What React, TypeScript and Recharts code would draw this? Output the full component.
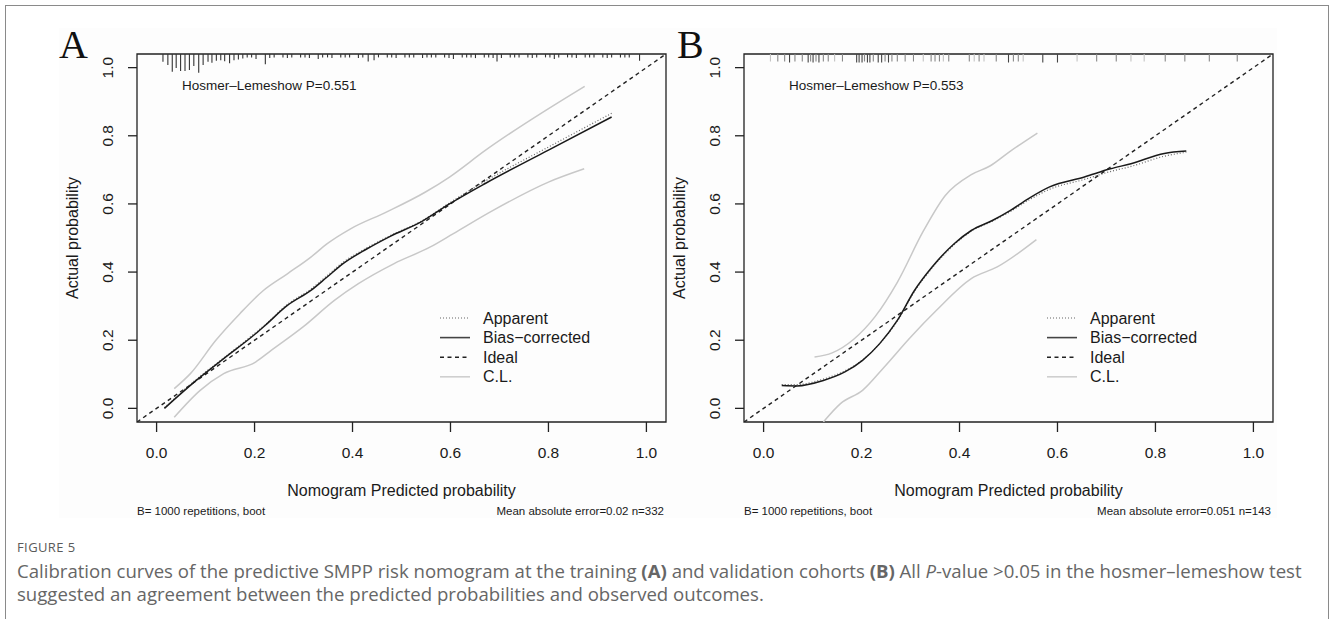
import React from "react";
import { LineChart, Line, XAxis, YAxis, ReferenceArea, ReferenceLine } from "recharts";

const FONT = '"Liberation Sans", Arial, Helvetica, sans-serif';
const SERIF = '"Liberation Serif", "Times New Roman", serif';
const CAPTION_FONT = '"Open Sans", "Noto Sans", sans-serif';

const TICKS = [0, 0.2, 0.4, 0.6, 0.8, 1.0];
const DOMAIN: [number, number] = [-0.04, 1.04];
const ideal = [[-0.04, -0.04], [1.04, 1.04]];

const legendLabels = ["Apparent", "Bias\u2212corrected", "Ideal", "C.L."];

/* ---------- A: training cohort ---------- */
const apparentA = [
  [0.016, 0.002], [0.081, 0.085], [0.137, 0.148], [0.202, 0.222], [0.222, 0.246],
  [0.267, 0.305], [0.315, 0.35], [0.347, 0.388], [0.38, 0.428], [0.428, 0.47],
  [0.477, 0.507], [0.541, 0.55], [0.598, 0.603], [0.671, 0.667], [0.8, 0.767], [0.929, 0.866],
];
const biasA = [
  [0.016, 0.0], [0.081, 0.082], [0.137, 0.146], [0.202, 0.219], [0.222, 0.244],
  [0.267, 0.302], [0.315, 0.346], [0.347, 0.384], [0.38, 0.424], [0.428, 0.467],
  [0.477, 0.505], [0.541, 0.548], [0.598, 0.6], [0.671, 0.66], [0.8, 0.758], [0.929, 0.855],
];
const clUpperA = [
  [0.036, 0.058], [0.069, 0.102], [0.121, 0.2], [0.17, 0.278], [0.218, 0.346],
  [0.267, 0.395], [0.315, 0.444], [0.347, 0.482], [0.396, 0.527], [0.469, 0.576],
  [0.549, 0.635], [0.598, 0.679], [0.671, 0.757], [0.874, 0.945],
];
const clLowerA = [
  [0.036, -0.026], [0.089, 0.053], [0.137, 0.102], [0.202, 0.136], [0.234, 0.17],
  [0.299, 0.239], [0.363, 0.317], [0.412, 0.366], [0.485, 0.425], [0.558, 0.473],
  [0.606, 0.513], [0.687, 0.581], [0.8, 0.664], [0.873, 0.703],
];
// rug of predicted values: [value, bar length]
const rugA = [
  [0.013, 0.023], [0.023, 0.032], [0.032, 0.052], [0.04, 0.041], [0.049, 0.05], [0.058, 0.05],
  [0.067, 0.047], [0.076, 0.035], [0.086, 0.055], [0.095, 0.032], [0.105, 0.023], [0.113, 0.026],
  [0.122, 0.02], [0.131, 0.018], [0.139, 0.021], [0.149, 0.027], [0.158, 0.018], [0.167, 0.016],
  [0.176, 0.013], [0.185, 0.01], [0.194, 0.01], [0.203, 0.015], [0.222, 0.03], [0.231, 0.012],
  [0.24, 0.01], [0.258, 0.01], [0.267, 0.012], [0.276, 0.01], [0.294, 0.01], [0.303, 0.01],
  [0.312, 0.012], [0.33, 0.015], [0.339, 0.01], [0.349, 0.01], [0.358, 0.012], [0.376, 0.01],
  [0.385, 0.01], [0.394, 0.01], [0.412, 0.012], [0.421, 0.01], [0.432, 0.022], [0.444, 0.018],
  [0.453, 0.01], [0.471, 0.01], [0.48, 0.01], [0.489, 0.012], [0.507, 0.01], [0.516, 0.01],
  [0.525, 0.01], [0.543, 0.012], [0.552, 0.01], [0.561, 0.01], [0.57, 0.01], [0.588, 0.01],
  [0.597, 0.012], [0.606, 0.015], [0.624, 0.01], [0.633, 0.01], [0.642, 0.01], [0.651, 0.012],
  [0.669, 0.01], [0.678, 0.01], [0.687, 0.012], [0.695, 0.022], [0.704, 0.012], [0.722, 0.01],
  [0.731, 0.01], [0.74, 0.01], [0.758, 0.01], [0.767, 0.012], [0.776, 0.01], [0.794, 0.01],
  [0.803, 0.01], [0.812, 0.015], [0.821, 0.01], [0.839, 0.01], [0.848, 0.01], [0.857, 0.012],
  [0.875, 0.01], [0.884, 0.01], [0.893, 0.01], [0.911, 0.01], [0.92, 0.012], [0.929, 0.01],
  [0.947, 0.01], [0.956, 0.01], [0.965, 0.01], [0.986, 0.02],
];

/* ---------- B: validation cohort ---------- */
const apparentB = [
  [0.037, 0.07], [0.068, 0.07], [0.122, 0.086], [0.166, 0.11], [0.202, 0.142],
  [0.237, 0.19], [0.273, 0.256], [0.308, 0.343], [0.344, 0.412], [0.389, 0.48],
  [0.424, 0.52], [0.468, 0.55], [0.504, 0.578], [0.54, 0.61], [0.584, 0.643],
  [0.655, 0.672], [0.708, 0.695], [0.75, 0.71], [0.818, 0.74], [0.863, 0.752],
];
const biasB = [
  [0.037, 0.067], [0.068, 0.066], [0.122, 0.082], [0.166, 0.107], [0.202, 0.141],
  [0.237, 0.19], [0.273, 0.258], [0.308, 0.346], [0.344, 0.415], [0.389, 0.483],
  [0.424, 0.522], [0.468, 0.552], [0.504, 0.581], [0.54, 0.615], [0.584, 0.65],
  [0.655, 0.679], [0.708, 0.703], [0.75, 0.718], [0.818, 0.748], [0.863, 0.755],
];
const clUpperB = [
  [0.104, 0.151], [0.14, 0.163], [0.184, 0.203], [0.228, 0.27], [0.273, 0.37],
  [0.326, 0.52], [0.371, 0.625], [0.424, 0.686], [0.463, 0.712], [0.504, 0.755], [0.559, 0.808],
];
const clLowerB = [
  [0.122, -0.04], [0.157, 0.014], [0.202, 0.053], [0.246, 0.121], [0.3, 0.209],
  [0.353, 0.288], [0.424, 0.381], [0.477, 0.415], [0.557, 0.495],
];
// rug: [value, frequency class 1 = many .. 3 = few]
const rugB = [
  [0.014, 3], [0.029, 2], [0.043, 2], [0.053, 1], [0.064, 2], [0.079, 2], [0.091, 1], [0.096, 2],
  [0.101, 1], [0.107, 2], [0.113, 1], [0.122, 2], [0.132, 2], [0.145, 3], [0.161, 2], [0.19, 1],
  [0.195, 1], [0.201, 1], [0.206, 2], [0.212, 1], [0.217, 1], [0.224, 2], [0.234, 1], [0.241, 1],
  [0.248, 2], [0.255, 1], [0.262, 2], [0.273, 2], [0.289, 2], [0.306, 2], [0.326, 3], [0.342, 2],
  [0.35, 2], [0.359, 2], [0.367, 3], [0.378, 2], [0.42, 2], [0.43, 3], [0.44, 2], [0.45, 3],
  [0.475, 2], [0.5, 1], [0.51, 2], [0.52, 2], [0.53, 3], [0.57, 1], [0.6, 1], [0.64, 3],
  [0.68, 2], [0.72, 2], [0.75, 3], [0.777, 3], [0.82, 2], [0.86, 2], [0.91, 2], [0.967, 2],
];

const toPts = (arr: number[][]) => arr.map(([x, y]) => ({ x, y }));
const rugShade = ["#444", "#444", "#888", "#c4c4c4"];

const M = { top: 54, right: 34, bottom: 8, left: 97 };

const XTick = (props: any) => {
  const { x, y, payload } = props;
  return (
    <text x={x} y={y + 24} textAnchor="middle" fontFamily={FONT} fontSize={15.5} fill="#1a1a1a">
      {payload.value.toFixed(1)}
    </text>
  );
};

const YTick = (props: any) => {
  const { x, y, payload } = props;
  const bx = x - 12.5;
  return (
    <text x={bx} y={y} transform={`rotate(-90 ${bx} ${y})`} textAnchor="middle" fontFamily={FONT} fontSize={15.5} fill="#1a1a1a">
      {payload.value.toFixed(1)}
    </text>
  );
};

const legendStyles = [
  { stroke: "#666", dash: "1 2", width: 1.2 },
  { stroke: "#444", dash: undefined, width: 1.6 },
  { stroke: "#222", dash: "4 3.5", width: 1.4 },
  { stroke: "#cfcfcf", dash: undefined, width: 1.6 },
];

interface PanelProps {
  left: number;
  letter: string;
  apparent: number[][];
  bias: number[][];
  clUpper: number[][];
  clLower: number[][];
  rug: number[][];
  shaded: boolean;
  hosmer: string;
  mae: string;
}

function CalibrationPanel(p: PanelProps) {
  return (
    <div style={{ position: "absolute", left: p.left, top: 0, width: 700, height: 530 }}>
      <LineChart width={700} height={470} margin={M}>
        <XAxis
          type="number"
          dataKey="x"
          domain={DOMAIN}
          ticks={TICKS}
          interval={0}
          allowDataOverflow
          axisLine={false}
          tickSize={10}
          tickMargin={2}
          height={40}
          tickLine={{ stroke: "#222", strokeWidth: 1.3 }}
          tick={XTick}
        />
        <YAxis
          type="number"
          dataKey="y"
          domain={DOMAIN}
          ticks={TICKS}
          interval={0}
          allowDataOverflow
          axisLine={false}
          tickSize={9}
          tickMargin={2}
          width={40}
          tickLine={{ stroke: "#222", strokeWidth: 1.3 }}
          tick={YTick}
        />
        <ReferenceArea x1={-0.04} x2={1.04} y1={-0.04} y2={1.04} fill="none" stroke="#222" strokeWidth={1.3} ifOverflow="visible" />
        {p.rug.map(([x, v], i) => (
          <ReferenceLine
            key={`rug-${i}`}
            ifOverflow="visible"
            segment={[{ x, y: 1.04 }, { x, y: 1.04 - (p.shaded ? (v === 1 ? 0.025 : 0.022) : v) }]}
            stroke={p.shaded ? rugShade[v] : "#333"}
            strokeWidth={1.1}
          />
        ))}
        <Line data={toPts(p.clUpper)} dataKey="y" type="monotone" stroke="#c8c8c8" strokeWidth={1.5} dot={false} isAnimationActive={false} />
        <Line data={toPts(p.clLower)} dataKey="y" type="monotone" stroke="#c8c8c8" strokeWidth={1.5} dot={false} isAnimationActive={false} />
        <Line data={toPts(ideal)} dataKey="y" type="linear" stroke="#222" strokeWidth={1.4} strokeDasharray="4 3.5" dot={false} isAnimationActive={false} />
        <Line data={toPts(p.apparent)} dataKey="y" type="monotone" stroke="#666" strokeWidth={1.2} strokeDasharray="1 2" dot={false} isAnimationActive={false} />
        <Line data={toPts(p.bias)} dataKey="y" type="monotone" stroke="#1a1a1a" strokeWidth={1.5} dot={false} isAnimationActive={false} />
      </LineChart>
      <svg width={700} height={530} style={{ position: "absolute", left: 0, top: 0, pointerEvents: "none" }}>
        <text x={p.letter === "A" ? 59 : 70} y={58} fontFamily={SERIF} fontSize={40} fill="#111">{p.letter}</text>
        <text x={182} y={90} fontFamily={FONT} fontSize={13.5} fill="#1a1a1a">{p.hosmer}</text>
        <text x={78} y={238} transform="rotate(-90 78 238)" textAnchor="middle" fontFamily={FONT} fontSize={16} fill="#1a1a1a">
          Actual probability
        </text>
        <text x={401.5} y={496} textAnchor="middle" fontFamily={FONT} fontSize={16} fill="#1a1a1a">
          Nomogram Predicted probability
        </text>
        <text x={137} y={515} fontFamily={FONT} fontSize={11.5} fill="#1a1a1a">B= 1000 repetitions, boot</text>
        <text x={664} y={515} textAnchor="end" fontFamily={FONT} fontSize={11.5} fill="#1a1a1a">{p.mae}</text>
        {legendLabels.map((label, i) => {
          const cy = 318 + i * 19.6;
          const s = legendStyles[i];
          return (
            <g key={label}>
              <line x1={440} x2={470} y1={cy} y2={cy} stroke={s.stroke} strokeWidth={s.width} strokeDasharray={s.dash} />
              <text x={483} y={cy + 5.5} fontFamily={FONT} fontSize={16} fill="#1a1a1a">{label}</text>
            </g>
          );
        })}
      </svg>
    </div>
  );
}

export default function App() {
  return (
    <div style={{ position: "absolute", left: 0, top: 0, width: 1330, height: 619, background: "#fff", overflow: "hidden" }}>
      <div style={{ position: "absolute", left: 5, top: 5, width: 1322, height: 700, border: "1px solid #8a8a8a" }} />
      <div style={{ position: "absolute", left: 59, top: 28, width: 1218, height: 490, background: "#fdfdfd" }} />
      <CalibrationPanel
        left={0}
        letter="A"
        apparent={apparentA}
        bias={biasA}
        clUpper={clUpperA}
        clLower={clLowerA}
        rug={rugA}
        shaded={false}
        hosmer="Hosmer–Lemeshow P=0.551"
        mae="Mean absolute error=0.02 n=332"
      />
      <CalibrationPanel
        left={607}
        letter="B"
        apparent={apparentB}
        bias={biasB}
        clUpper={clUpperB}
        clLower={clLowerB}
        rug={rugB}
        shaded
        hosmer="Hosmer–Lemeshow P=0.553"
        mae="Mean absolute error=0.051 n=143"
      />
      <div style={{ position: "absolute", left: 17, top: 538, fontFamily: CAPTION_FONT, fontSize: 13, letterSpacing: 0.4, color: "#5a5a5a" }}>
        FIGURE 5
      </div>
      <div style={{ position: "absolute", left: 17, top: 559, width: 1312, whiteSpace: "nowrap", fontFamily: CAPTION_FONT, fontSize: 18.6, lineHeight: "23px", color: "#666" }}>
        Calibration curves of the predictive SMPP risk nomogram at the training <b>(A)</b> and validation cohorts <b>(B)</b> All{" "}
        <i>P</i>-value &gt;0.05 in the hosmer–lemeshow test
        <br />
        suggested an agreement between the predicted probabilities and observed outcomes.
      </div>
    </div>
  );
}
